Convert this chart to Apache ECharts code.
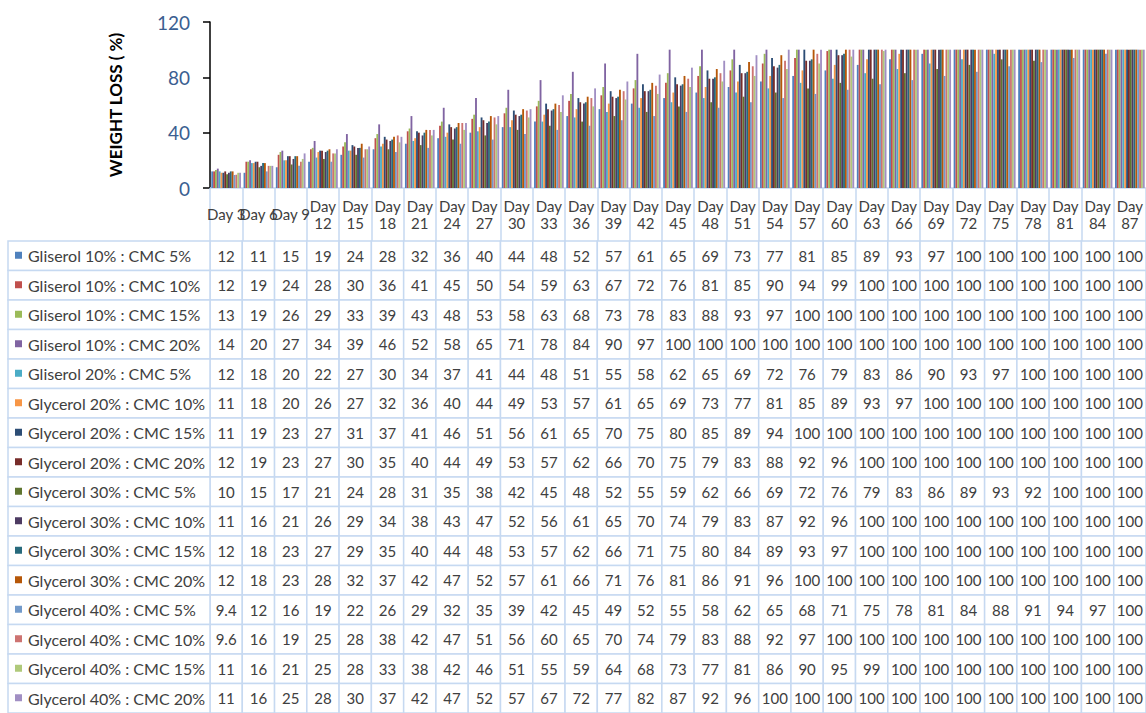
<!DOCTYPE html>
<html>
<head>
<meta charset="utf-8">
<script src="https://cdn.jsdelivr.net/npm/echarts@6/dist/echarts.min.js"></script>
<style>
  html, body { margin: 0; padding: 0; background: #ffffff; }
  #chart { width: 1146px; height: 713px; }
</style>
</head>
<body>
<div id="chart"></div>
<script>
// Sampling days (category axis and table header)
const days = ['Day 3', 'Day 6', 'Day 9', 'Day 12', 'Day 15', 'Day 18', 'Day 21', 'Day 24', 'Day 27', 'Day 30',
  'Day 33', 'Day 36', 'Day 39', 'Day 42', 'Day 45', 'Day 48', 'Day 51', 'Day 54', 'Day 57', 'Day 60',
  'Day 63', 'Day 66', 'Day 69', 'Day 72', 'Day 75', 'Day 78', 'Day 81', 'Day 84', 'Day 87'];

// Formulation names (one per series)
const seriesNames = [
  'Gliserol 10% : CMC 5%', 'Gliserol 10% : CMC 10%', 'Gliserol 10% : CMC 15%', 'Gliserol 10% : CMC 20%',
  'Gliserol 20% : CMC 5%', 'Glycerol 20% : CMC 10%', 'Glycerol 20% : CMC 15%', 'Glycerol 20% : CMC 20%',
  'Glycerol 30% : CMC 5%', 'Glycerol 30% : CMC 10%', 'Glycerol 30% : CMC 15%', 'Glycerol 30% : CMC 20%',
  'Glycerol 40% : CMC 5%', 'Glycerol 40% : CMC 10%', 'Glycerol 40% : CMC 15%', 'Glycerol 40% : CMC 20%'
];

// Weight loss (%) per formulation
const g10c5  = [12, 11, 15, 19, 24, 28, 32, 36, 40, 44, 48, 52, 57, 61, 65, 69, 73, 77, 81, 85, 89, 93, 97, 100, 100, 100, 100, 100, 100];
const g10c10 = [12, 19, 24, 28, 30, 36, 41, 45, 50, 54, 59, 63, 67, 72, 76, 81, 85, 90, 94, 99, 100, 100, 100, 100, 100, 100, 100, 100, 100];
const g10c15 = [13, 19, 26, 29, 33, 39, 43, 48, 53, 58, 63, 68, 73, 78, 83, 88, 93, 97, 100, 100, 100, 100, 100, 100, 100, 100, 100, 100, 100];
const g10c20 = [14, 20, 27, 34, 39, 46, 52, 58, 65, 71, 78, 84, 90, 97, 100, 100, 100, 100, 100, 100, 100, 100, 100, 100, 100, 100, 100, 100, 100];
const g20c5  = [12, 18, 20, 22, 27, 30, 34, 37, 41, 44, 48, 51, 55, 58, 62, 65, 69, 72, 76, 79, 83, 86, 90, 93, 97, 100, 100, 100, 100];
const g20c10 = [11, 18, 20, 26, 27, 32, 36, 40, 44, 49, 53, 57, 61, 65, 69, 73, 77, 81, 85, 89, 93, 97, 100, 100, 100, 100, 100, 100, 100];
const g20c15 = [11, 19, 23, 27, 31, 37, 41, 46, 51, 56, 61, 65, 70, 75, 80, 85, 89, 94, 100, 100, 100, 100, 100, 100, 100, 100, 100, 100, 100];
const g20c20 = [12, 19, 23, 27, 30, 35, 40, 44, 49, 53, 57, 62, 66, 70, 75, 79, 83, 88, 92, 96, 100, 100, 100, 100, 100, 100, 100, 100, 100];
const g30c5  = [10, 15, 17, 21, 24, 28, 31, 35, 38, 42, 45, 48, 52, 55, 59, 62, 66, 69, 72, 76, 79, 83, 86, 89, 93, 92, 100, 100, 100];
const g30c10 = [11, 16, 21, 26, 29, 34, 38, 43, 47, 52, 56, 61, 65, 70, 74, 79, 83, 87, 92, 96, 100, 100, 100, 100, 100, 100, 100, 100, 100];
const g30c15 = [12, 18, 23, 27, 29, 35, 40, 44, 48, 53, 57, 62, 66, 71, 75, 80, 84, 89, 93, 97, 100, 100, 100, 100, 100, 100, 100, 100, 100];
const g30c20 = [12, 18, 23, 28, 32, 37, 42, 47, 52, 57, 61, 66, 71, 76, 81, 86, 91, 96, 100, 100, 100, 100, 100, 100, 100, 100, 100, 100, 100];
const g40c5  = [9.4, 12, 16, 19, 22, 26, 29, 32, 35, 39, 42, 45, 49, 52, 55, 58, 62, 65, 68, 71, 75, 78, 81, 84, 88, 91, 94, 97, 100];
const g40c10 = [9.6, 16, 19, 25, 28, 38, 42, 47, 51, 56, 60, 65, 70, 74, 79, 83, 88, 92, 97, 100, 100, 100, 100, 100, 100, 100, 100, 100, 100];
const g40c15 = [11, 16, 21, 25, 28, 33, 38, 42, 46, 51, 55, 59, 64, 68, 73, 77, 81, 86, 90, 95, 99, 100, 100, 100, 100, 100, 100, 100, 100];
const g40c20 = [11, 16, 25, 28, 30, 37, 42, 47, 52, 57, 67, 72, 77, 82, 87, 92, 96, 100, 100, 100, 100, 100, 100, 100, 100, 100, 100, 100, 100];

const seriesValues = [g10c5, g10c10, g10c15, g10c20, g20c5, g20c10, g20c15, g20c20,
  g30c5, g30c10, g30c15, g30c20, g40c5, g40c10, g40c15, g40c20];

const palette = ['#4F81BD', '#C0504D', '#9BBB59', '#8064A2', '#4BACC6', '#F79646', '#2C4D75', '#772C2A',
  '#5F7530', '#4D3B62', '#276A7C', '#B65708', '#729ACA', '#CD7371', '#AFC97A', '#A18FC3'];

const FONT = 'Lato, "Liberation Sans", sans-serif';
const TEXT = '#404040';
const CELL_BORDER = '#C6D9F1';
const ROW_H = 29.85;

// Cells of the data table: [dayIndex, seriesIndex, value]
const tableCells = [];
seriesValues.forEach((vals, r) => vals.forEach((v, c) => tableCells.push([c, r, v])));
// Legend column cells: [0, seriesIndex]
const legendCells = seriesNames.map((n, r) => [0, r]);

const barSeries = seriesNames.map((name, i) => ({
  name: name,
  type: 'bar',
  xAxisIndex: 0,
  yAxisIndex: 0,
  data: seriesValues[i],
  barGap: '0%',
  barCategoryGap: '8%',
  itemStyle: { color: palette[i] },
  silent: true
}));

const chart = echarts.init(document.getElementById('chart'), null, { renderer: 'svg' });

chart.setOption({
  animation: false,
  backgroundColor: '#ffffff',
  grid: [
    { left: 210, top: 22, width: 937, height: 166 },
    { left: 210, top: 241, width: 937, height: ROW_H * 16 },
    { left: 8, top: 241, width: 202, height: ROW_H * 16 }
  ],
  xAxis: [
    {
      gridIndex: 0,
      type: 'category',
      data: days,
      axisLine: { show: true, lineStyle: { color: CELL_BORDER, width: 1.5 } },
      axisTick: { show: true, interval: 0, length: 53, lineStyle: { color: CELL_BORDER, width: 1.5 } },
      axisLabel: {
        interval: 0,
        margin: 26,
        verticalAlign: 'middle',
        color: TEXT,
        fontFamily: FONT,
        fontSize: 15,
        lineHeight: 17,
        formatter: (v) => v.length > 5 ? v.replace(' ', '\n') : v
      }
    },
    { gridIndex: 1, type: 'category', data: days, show: false },
    { gridIndex: 2, type: 'category', data: [''], show: false }
  ],
  yAxis: [
    {
      gridIndex: 0,
      type: 'value',
      min: 0,
      max: 120,
      interval: 40,
      name: 'WEIGHT LOSS ( %)',
      nameLocation: 'middle',
      nameRotate: 90,
      nameGap: 86,
      nameTextStyle: { color: '#000000', fontFamily: FONT, fontSize: 17, fontWeight: 'bold' },
      axisLine: { show: true, lineStyle: { color: '#000000', width: 1.5 } },
      axisTick: { show: true, length: 7, lineStyle: { color: '#000000', width: 1.5 } },
      axisLabel: { color: '#3B5E91', fontFamily: FONT, fontSize: 19, margin: 20 },
      splitLine: { show: false }
    },
    { gridIndex: 1, type: 'category', data: seriesNames, inverse: true, show: false },
    { gridIndex: 2, type: 'category', data: seriesNames, inverse: true, show: false }
  ],
  series: barSeries.concat([
    {
      type: 'custom',
      name: 'table',
      xAxisIndex: 1,
      yAxisIndex: 1,
      silent: true,
      clip: false,
      data: tableCells,
      encode: { x: 0, y: 1 },
      renderItem: (params, api) => {
        const p = api.coord([api.value(0), api.value(1)]);
        const s = api.size([1, 1]);
        return {
          type: 'group',
          children: [
            {
              type: 'rect',
              shape: { x: p[0] - s[0] / 2, y: p[1] - s[1] / 2, width: s[0], height: s[1] },
              style: { fill: '#ffffff', stroke: CELL_BORDER, lineWidth: 1.5 }
            },
            {
              type: 'text',
              style: {
                text: String(api.value(2)),
                x: p[0],
                y: p[1],
                align: 'center',
                verticalAlign: 'middle',
                fill: TEXT,
                font: '15px ' + FONT
              }
            }
          ]
        };
      }
    },
    {
      type: 'custom',
      name: 'legendColumn',
      xAxisIndex: 2,
      yAxisIndex: 2,
      silent: true,
      clip: false,
      data: legendCells,
      encode: { x: 0, y: 1 },
      renderItem: (params, api) => {
        const row = api.value(1);
        const p = api.coord([api.value(0), row]);
        const s = api.size([1, 1]);
        const left = p[0] - s[0] / 2;
        return {
          type: 'group',
          children: [
            {
              type: 'rect',
              shape: { x: left, y: p[1] - s[1] / 2, width: s[0], height: s[1] },
              style: { fill: '#ffffff', stroke: CELL_BORDER, lineWidth: 1.5 }
            },
            {
              type: 'rect',
              shape: { x: left + 7, y: p[1] - 4, width: 7, height: 7 },
              style: { fill: palette[row] }
            },
            {
              type: 'text',
              style: {
                text: seriesNames[row],
                x: left + 20,
                y: p[1],
                align: 'left',
                verticalAlign: 'middle',
                fill: TEXT,
                font: '16px ' + FONT
              }
            }
          ]
        };
      }
    }
  ])
});
</script>
</body>
</html>
